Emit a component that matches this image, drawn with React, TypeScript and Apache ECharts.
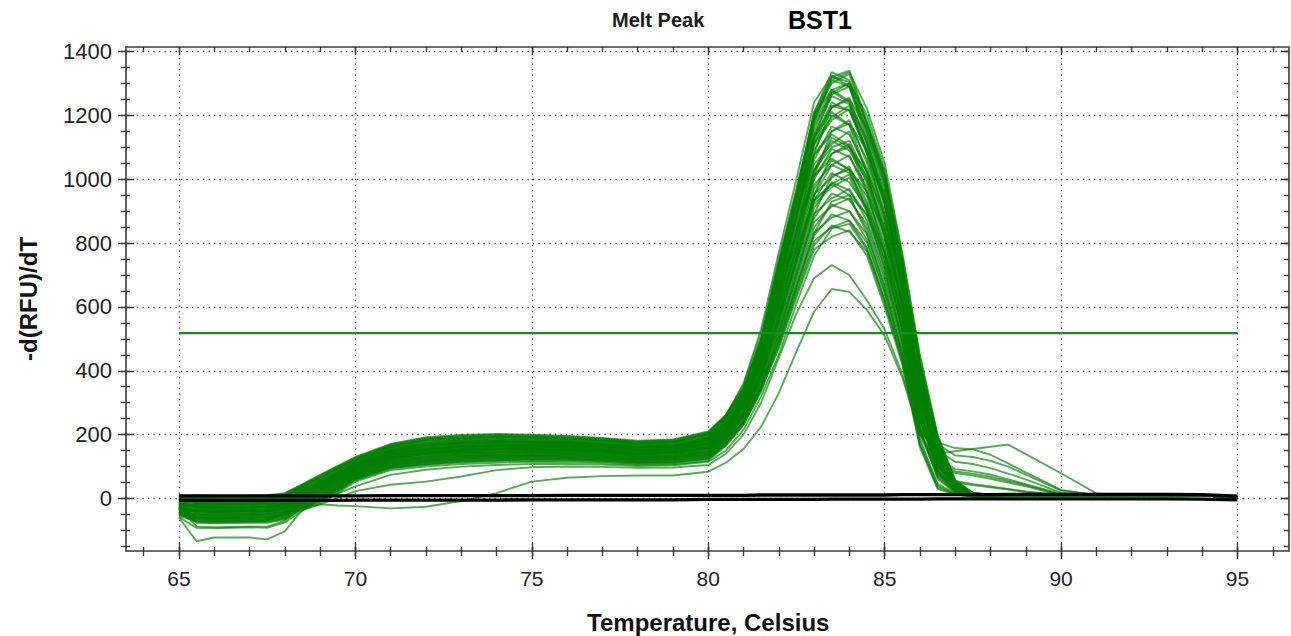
import React, { useEffect, useRef } from 'react';
import * as echarts from 'echarts';

// Temperature sampling (°C)
const temps = [65, 65.5, 66, 67, 67.5, 68, 68.5, 69, 69.5, 70, 71, 72, 73, 74, 75, 76, 77, 78, 79, 80, 80.5, 81, 81.5, 82, 82.5, 83, 83.5, 84, 84.5, 85, 85.5, 86, 86.5, 87, 87.5, 88, 88.5, 89, 90, 91, 92, 93, 94, 95];

// Positive wells: -d(RFU)/dT readings
const well01 = [0, 6, 4, 4, 6, 13, 41, 70, 98, 126, 167, 187, 194, 198, 196, 192, 186, 177, 181, 205, 260, 345, 500, 740, 960, 1210, 1320, 1340, 1180, 1020, 740, 420, 190, 50, 16, 12, 11, 11, 11, 11, 12, 12, 11, 5];
const well02 = [5, 10, 8, 8, 10, 17, 45, 74, 102, 130, 171, 192, 199, 202, 200, 196, 190, 181, 185, 210, 262, 344, 498, 737, 957, 1206, 1335, 1310, 1176, 1016, 737, 417, 188, 50, 16, 12, 11, 11, 11, 10, 11, 11, 10, 4];
const well03 = [-10, -4, -6, -5, -3, 4, 33, 61, 89, 118, 159, 178, 185, 189, 187, 184, 178, 170, 173, 196, 248, 343, 497, 735, 953, 1201, 1300, 1330, 1172, 1012, 734, 415, 187, 49, 16, 12, 11, 11, 11, 10, 10, 11, 10, 4];
const well04 = [3, 1, -1, -1, 1, 8, 37, 65, 94, 122, 163, 183, 190, 193, 192, 188, 182, 173, 177, 201, 252, 338, 490, 724, 940, 1184, 1310, 1290, 1155, 995, 721, 404, 180, 48, 15, 12, 11, 11, 11, 11, 10, 10, 9, 3];
const well05 = [-15, -12, -15, -14, -12, -5, 25, 52, 81, 111, 151, 169, 176, 180, 179, 176, 170, 162, 165, 187, 238, 334, 484, 713, 927, 1167, 1265, 1290, 1138, 978, 708, 394, 174, 46, 15, 11, 11, 11, 11, 10, 10, 11, 10, 5];
const well06 = [-4, -8, -10, -10, -8, 0, 29, 57, 85, 115, 155, 174, 181, 184, 183, 180, 174, 166, 169, 192, 243, 330, 479, 705, 917, 1154, 1275, 1240, 1125, 965, 698, 386, 169, 45, 15, 11, 10, 11, 11, 10, 11, 10, 10, 4];
const well07 = [-20, -17, -19, -18, -17, -9, 21, 48, 77, 107, 146, 164, 172, 175, 175, 171, 166, 158, 161, 182, 232, 325, 473, 694, 904, 1137, 1225, 1255, 1109, 949, 686, 376, 163, 44, 14, 11, 10, 10, 11, 10, 10, 10, 9, 4];
const well08 = [-6, -1, -3, -3, -1, 7, 35, 64, 92, 121, 161, 181, 188, 191, 190, 186, 181, 172, 176, 199, 250, 322, 468, 686, 894, 1124, 1240, 1215, 1096, 936, 676, 368, 158, 42, 14, 11, 10, 10, 11, 10, 11, 11, 10, 5];
const well09 = [-25, -21, -24, -23, -21, -13, 17, 44, 72, 103, 142, 160, 167, 171, 170, 167, 162, 154, 157, 178, 228, 317, 462, 675, 881, 1107, 1185, 1220, 1079, 919, 663, 358, 152, 41, 14, 11, 10, 10, 11, 10, 10, 10, 9, 4];
const well10 = [-12, -26, -28, -27, -26, -18, 13, 39, 68, 99, 138, 155, 163, 166, 166, 163, 158, 151, 153, 173, 222, 313, 455, 664, 868, 1090, 1200, 1170, 1062, 902, 650, 347, 145, 39, 13, 10, 10, 10, 10, 10, 10, 11, 10, 5];
const well11 = [-30, -15, -17, -17, -15, -7, 23, 50, 78, 108, 148, 166, 174, 177, 176, 173, 168, 160, 163, 184, 234, 309, 450, 656, 858, 1077, 1150, 1185, 1050, 890, 641, 339, 140, 38, 13, 10, 10, 10, 10, 10, 10, 10, 9, 4];
const well12 = [-18, -30, -32, -32, -30, -22, 9, 35, 64, 95, 134, 151, 158, 162, 162, 159, 154, 147, 149, 169, 217, 305, 444, 646, 845, 1060, 1165, 1140, 1033, 873, 628, 329, 134, 37, 13, 10, 10, 10, 10, 10, 9, 10, 10, 4];
const well13 = [-35, -24, -26, -25, -24, -16, 15, 41, 70, 101, 140, 157, 164, 168, 168, 165, 160, 152, 155, 175, 225, 301, 439, 637, 835, 1047, 1110, 1150, 1020, 860, 618, 321, 129, 36, 12, 10, 9, 10, 10, 10, 10, 10, 9, 3];
const well14 = [-28, -35, -37, -36, -35, -26, 5, 30, 60, 92, 130, 146, 154, 157, 158, 155, 151, 143, 146, 164, 212, 297, 433, 627, 821, 1029, 1130, 1100, 1004, 844, 606, 311, 123, 34, 12, 9, 9, 10, 10, 10, 10, 10, 9, 4];
const well15 = [-40, -40, -42, -40, -40, -31, 1, 26, 55, 88, 126, 141, 149, 153, 153, 151, 147, 139, 142, 159, 207, 292, 426, 616, 808, 1012, 1080, 1110, 987, 827, 593, 290, 175, 158, 154, 137, 110, 82, 27, 10, 10, 10, 9, 4];
const well16 = [-8, -28, -30, -29, -28, -20, 11, 37, 66, 98, 137, 153, 161, 164, 164, 162, 157, 149, 152, 171, 220, 289, 422, 608, 798, 999, 1095, 1070, 974, 814, 583, 293, 112, 31, 11, 9, 9, 10, 10, 10, 10, 10, 9, 4];
const well17 = [-22, -44, -46, -45, -44, -35, -3, 22, 51, 84, 122, 137, 144, 148, 149, 147, 143, 135, 138, 155, 203, 284, 415, 597, 785, 982, 1045, 1075, 957, 797, 570, 282, 105, 30, 11, 9, 9, 9, 10, 10, 10, 9, 9, 4];
const well18 = [-45, -37, -39, -38, -37, -28, 3, 29, 58, 90, 128, 144, 152, 155, 156, 153, 149, 141, 144, 162, 210, 281, 410, 589, 775, 969, 1060, 1030, 945, 785, 561, 274, 100, 29, 10, 9, 9, 9, 10, 10, 10, 10, 9, 4];
const well19 = [-30, -49, -51, -49, -49, -40, -7, 17, 47, 80, 118, 132, 140, 144, 145, 143, 139, 132, 134, 150, 198, 276, 404, 578, 762, 952, 1005, 1040, 928, 768, 548, 264, 110, 50, 42, 35, 28, 20, 10, 9, 10, 10, 9, 4];
const well20 = [-15, -42, -44, -43, -42, -33, -1, 24, 53, 85, 123, 139, 146, 150, 151, 148, 144, 137, 139, 157, 205, 271, 398, 567, 749, 935, 1020, 990, 911, 751, 535, 254, 88, 26, 10, 8, 8, 9, 10, 10, 10, 10, 9, 4];
const well21 = [-38, -53, -55, -54, -53, -44, -11, 13, 43, 76, 114, 128, 135, 139, 141, 139, 135, 128, 130, 146, 193, 268, 393, 559, 739, 922, 975, 1005, 899, 739, 526, 246, 100, 55, 45, 38, 30, 22, 10, 9, 10, 10, 9, 4];
const well22 = [-48, -57, -60, -58, -58, -48, -15, 9, 38, 72, 110, 123, 131, 135, 136, 135, 131, 124, 126, 141, 188, 265, 388, 551, 729, 909, 990, 965, 886, 726, 516, 238, 120, 85, 78, 68, 55, 42, 12, 9, 10, 10, 9, 4];
const well23 = [-25, -46, -48, -47, -46, -37, -5, 20, 49, 82, 120, 135, 143, 146, 147, 145, 141, 134, 136, 153, 200, 260, 382, 540, 716, 892, 940, 970, 869, 709, 503, 228, 125, 92, 85, 75, 60, 45, 14, 9, 10, 10, 9, 4];
const well24 = [-52, -62, -64, -62, -62, -53, -19, 4, 34, 68, 105, 118, 126, 130, 132, 130, 127, 120, 122, 136, 182, 256, 377, 532, 706, 879, 955, 935, 857, 697, 494, 220, 67, 21, 8, 7, 8, 9, 9, 10, 10, 10, 9, 4];
const well25 = [-42, -55, -57, -55, -55, -46, -13, 11, 41, 75, 112, 126, 133, 137, 139, 137, 133, 126, 128, 144, 190, 253, 372, 524, 696, 866, 915, 940, 844, 684, 484, 212, 150, 115, 108, 95, 78, 60, 18, 9, 10, 10, 9, 4];
const well26 = [-35, -66, -68, -67, -67, -57, -23, 0, 30, 65, 101, 114, 122, 126, 128, 126, 123, 116, 118, 132, 178, 248, 366, 513, 683, 849, 920, 900, 827, 667, 471, 202, 110, 80, 72, 62, 50, 38, 11, 9, 9, 10, 9, 4];
const well27 = [-55, -71, -73, -71, -71, -61, -27, -4, 26, 61, 97, 109, 117, 121, 124, 122, 119, 113, 114, 127, 172, 244, 359, 502, 670, 832, 880, 900, 810, 650, 458, 220, 140, 148, 155, 162, 169, 139, 79, 16, 10, 10, 9, 4];
const well28 = [-20, -60, -62, -61, -60, -51, -17, 6, 36, 70, 107, 120, 128, 132, 134, 132, 128, 122, 123, 138, 184, 242, 356, 497, 663, 823, 890, 870, 802, 642, 452, 186, 46, 16, 7, 7, 7, 8, 9, 9, 10, 10, 9, 4];
const well29 = [-47, -76, -78, -76, -76, -66, -31, -9, 21, 57, 93, 105, 113, 117, 119, 118, 115, 109, 110, 123, 168, 237, 350, 486, 650, 806, 850, 870, 785, 625, 439, 200, 170, 135, 130, 118, 100, 75, 25, 10, 10, 10, 9, 4];
const well30 = [-30, -88, -90, -88, -88, -70, -28, -3, 27, 62, 99, 111, 119, 123, 125, 124, 120, 114, 115, 129, 175, 233, 345, 478, 640, 793, 855, 835, 773, 613, 430, 168, 35, 13, 6, 6, 7, 8, 9, 9, 10, 10, 9, 4];
const well31 = [-58, -92, -93, -90, -92, -75, -38, -13, 17, 53, 89, 100, 108, 112, 115, 114, 111, 105, 106, 118, 165, 230, 340, 470, 630, 780, 820, 840, 760, 600, 420, 160, 30, 12, 6, 6, 7, 8, 9, 9, 10, 10, 9, 4];
const well32 = [-10, -10, -12, -12, -10, -2, 27, 55, 83, 113, 153, 172, 179, 182, 181, 178, 172, 164, 167, 190, 242, 341, 494, 729, 947, 1193, 1320, 1305, 1164, 1003, 727, 410, 184, 48, 16, 12, 11, 11, 11, 11, 10, 11, 10, 4];
const well33 = [-18, -19, -21, -20, -19, -11, 19, 46, 75, 105, 145, 163, 170, 173, 173, 170, 164, 156, 159, 181, 230, 336, 487, 718, 934, 1176, 1280, 1300, 1146, 986, 714, 399, 177, 47, 15, 12, 11, 11, 11, 10, 10, 10, 10, 4];
const well34 = [-33, -33, -35, -34, -33, -25, 7, 32, 61, 93, 132, 148, 155, 159, 159, 157, 152, 145, 147, 166, 215, 327, 474, 697, 907, 1141, 1260, 1235, 1113, 953, 689, 378, 164, 44, 14, 11, 10, 10, 11, 10, 10, 10, 9, 4];
const well35 = [2, 3, 1, 1, 3, 10, 39, 67, 95, 124, 164, 185, 192, 195, 193, 189, 183, 175, 178, 203, 255, 320, 465, 681, 887, 1115, 1195, 1230, 1088, 928, 670, 363, 155, 42, 14, 11, 10, 10, 11, 10, 10, 11, 10, 5];
const well36 = [-44, -51, -53, -52, -51, -42, -9, 15, 44, 78, 115, 129, 137, 141, 142, 140, 136, 129, 131, 147, 196, 294, 430, 621, 815, 1021, 1120, 1090, 995, 835, 599, 306, 120, 33, 12, 9, 9, 10, 10, 10, 10, 10, 9, 4];
const well37 = [-5, -24, -26, -25, -24, -16, 15, 41, 70, 101, 140, 157, 164, 168, 168, 165, 160, 152, 155, 175, 222, 270, 396, 565, 746, 931, 985, 1015, 907, 747, 532, 252, 86, 25, 10, 8, 8, 9, 10, 10, 10, 10, 9, 4];
const well38 = [-8, -6, -8, -8, -6, 2, 31, 58, 87, 116, 157, 175, 183, 186, 185, 181, 176, 168, 171, 193, 258, 360, 530, 770, 1000, 1240, 1325, 1290, 1120, 930, 650, 350, 120, 35, 13, 11, 11, 11, 11, 10, 11, 11, 10, 5];
const well39 = [-20, -26, -28, -27, -26, -18, 13, 39, 68, 99, 138, 155, 163, 166, 166, 163, 158, 151, 153, 173, 220, 300, 440, 650, 880, 1130, 1270, 1300, 1200, 1030, 760, 440, 195, 55, 18, 12, 11, 11, 11, 11, 11, 11, 10, 4];
const well40 = [4, 1, -1, -1, 1, 8, 37, 65, 94, 122, 163, 183, 190, 193, 192, 188, 182, 173, 177, 201, 262, 355, 515, 750, 970, 1200, 1280, 1245, 1080, 880, 610, 320, 105, 30, 12, 11, 10, 11, 11, 10, 10, 11, 10, 4];
const well41 = [-12, -40, -42, -40, -40, -31, 1, 26, 55, 88, 126, 141, 149, 153, 153, 151, 147, 139, 142, 159, 205, 285, 415, 615, 835, 1080, 1225, 1250, 1160, 1000, 740, 430, 185, 52, 17, 12, 11, 11, 10, 10, 10, 10, 9, 4];
const well42 = [-3, -12, -15, -14, -12, -5, 25, 52, 81, 111, 151, 169, 176, 180, 179, 176, 170, 162, 165, 187, 245, 340, 495, 715, 925, 1130, 1210, 1170, 1020, 820, 560, 290, 90, 25, 11, 10, 10, 10, 10, 10, 10, 10, 9, 4];
const well43 = [-42, -49, -51, -49, -49, -40, -7, 17, 47, 80, 118, 132, 140, 144, 145, 143, 139, 132, 134, 150, 195, 270, 395, 585, 790, 1010, 1150, 1175, 1090, 940, 700, 410, 175, 48, 16, 11, 10, 10, 10, 10, 10, 10, 9, 4];
const well44 = [-28, -19, -21, -20, -19, -11, 19, 46, 75, 105, 145, 163, 170, 173, 173, 170, 164, 156, 159, 181, 238, 330, 478, 690, 890, 1075, 1140, 1105, 960, 770, 525, 265, 80, 22, 10, 9, 10, 10, 10, 10, 10, 10, 9, 4];
const well45 = [-40, -57, -60, -58, -58, -48, -15, 9, 38, 72, 110, 123, 131, 135, 136, 135, 131, 124, 126, 141, 185, 255, 375, 550, 745, 950, 1080, 1100, 1025, 885, 660, 390, 165, 45, 15, 10, 10, 10, 10, 10, 10, 10, 9, 4];
const well46 = [-10, -30, -32, -32, -30, -22, 9, 35, 64, 95, 134, 151, 158, 162, 162, 159, 154, 147, 149, 169, 222, 312, 452, 650, 840, 1010, 1065, 1030, 900, 720, 490, 245, 72, 20, 9, 9, 9, 10, 10, 10, 10, 10, 9, 4];
const well47 = [-50, -66, -68, -67, -67, -57, -23, 0, 30, 65, 101, 114, 122, 126, 128, 126, 123, 116, 118, 132, 175, 240, 350, 515, 700, 890, 1010, 1030, 960, 830, 620, 365, 150, 40, 14, 10, 10, 10, 10, 10, 10, 10, 9, 4];
const well48 = [-33, -40, -42, -40, -40, -31, 1, 26, 55, 88, 126, 141, 149, 153, 153, 151, 147, 139, 142, 159, 210, 295, 425, 605, 780, 935, 985, 950, 830, 660, 450, 220, 62, 18, 8, 8, 9, 9, 10, 10, 10, 10, 9, 4];
const well49 = [-44, -73, -75, -73, -73, -63, -29, -6, 24, 59, 96, 107, 115, 119, 122, 121, 117, 111, 112, 125, 168, 232, 335, 490, 660, 830, 930, 950, 890, 770, 575, 340, 140, 38, 13, 9, 9, 9, 10, 10, 10, 10, 9, 4];
const well50 = [6, 8, 6, 6, 8, 15, 43, 72, 100, 128, 169, 190, 197, 200, 198, 194, 188, 179, 183, 208, 258, 335, 480, 710, 935, 1180, 1310, 1335, 1220, 1050, 770, 450, 200, 58, 18, 12, 12, 11, 11, 11, 12, 12, 11, 5];
const well51 = [-38, -35, -37, -36, -35, -26, 5, 30, 60, 92, 130, 146, 154, 157, 158, 155, 151, 143, 146, 164, 214, 315, 462, 675, 885, 1110, 1230, 1215, 1085, 925, 670, 365, 150, 40, 14, 11, 10, 10, 11, 10, 10, 10, 9, 4];
const well52 = [-2, -15, -17, -17, -15, -7, 23, 50, 78, 108, 148, 166, 174, 177, 176, 173, 168, 160, 163, 184, 236, 305, 440, 640, 830, 1030, 1100, 1120, 1005, 845, 605, 315, 125, 34, 12, 10, 10, 10, 10, 10, 10, 10, 9, 4];
const well53 = [-25, -62, -64, -62, -62, -53, -19, 4, 34, 68, 105, 118, 126, 130, 132, 130, 127, 120, 122, 136, 184, 262, 390, 575, 760, 950, 1045, 1020, 920, 770, 550, 280, 95, 27, 10, 9, 9, 10, 10, 10, 10, 10, 9, 4];
// Atypical wells
const wellLowPeakA = [-45, -70, -72, -70, -68, -45, -30, -18, -22, -24, -31, -26, -8, 17, 53, 65, 70, 72, 72, 84, 112, 155, 225, 330, 460, 585, 656, 647, 590, 510, 380, 200, 75, 30, 15, 10, 9, 9, 9, 9, 10, 10, 9, 4];
const wellLowPeakB = [-30, -60, -62, -62, -60, -50, -35, -18, 2, 23, 43, 53, 69, 89, 98, 100, 99, 96, 97, 105, 140, 200, 300, 440, 580, 690, 731, 700, 620, 530, 390, 210, 80, 30, 15, 10, 9, 9, 9, 9, 10, 10, 9, 4];
const wellDeepStart = [-60, -134, -122, -122, -128, -103, -35, -5, 15, 38, 74, 90, 100, 105, 108, 108, 106, 102, 104, 115, 150, 215, 320, 450, 610, 760, 845, 860, 780, 620, 430, 175, 40, 14, 7, 7, 8, 8, 9, 9, 10, 10, 9, 4];
// Negative controls (black traces)
const negativeA = [8, 8, 8, 8, 8, 8, 8, 8, 8, 8, 9, 9, 9, 9, 9, 10, 10, 10, 10, 10, 10, 10, 11, 11, 11, 11, 11, 11, 11, 11, 12, 12, 12, 12, 12, 12, 13, 13, 13, 13, 13, 13, 12, 7];
const negativeB = [-6, -6, -6, -6, -6, -6, -6, -6, -6, -5, -5, -5, -5, -5, -4, -4, -4, -4, -4, -3, -3, -3, -3, -3, -3, -3, -2, -2, -2, -2, -2, -2, -1, -1, -1, -1, -1, -1, -1, -1, -1, -1, -2, -4];
// Threshold
const thresholdTemps = [65, 95];
const thresholdValue = 518;

// Axis ticks
const xMajorTicks = [65, 70, 75, 80, 85, 90, 95];
const yMajorTicks = [0, 200, 400, 600, 800, 1000, 1200, 1400];

const greenWells = [well01, well02, well03, well04, well05, well06, well07, well08, well09, well10, well11, well12, well13, well14, well15, well16, well17, well18, well19, well20, well21, well22, well23, well24, well25, well26, well27, well28, well29, well30, well31, well32, well33, well34, well35, well36, well37, well38, well39, well40, well41, well42, well43, well44, well45, well46, well47, well48, well49, well50, well51, well52, well53, wellLowPeakA, wellLowPeakB, wellDeepStart];
const blackWells = [negativeA, negativeB];

const FONT = "'Liberation Sans', Arial, Helvetica, sans-serif";
const FRAME = '#3a3a3a';
const GREEN = 'rgba(0,128,0,0.66)';
const GRID_DOT = { color: '#4a4a4a', width: 1.3, type: [1.3, 4.2] as number[] };

function tickAxis(gridIndex: number, min: number, max: number, interval: number, position: string, inside: boolean, length: number) {
  return {
    type: 'value', gridIndex, min, max, interval, position,
    axisLine: { show: false, onZero: false },
    axisTick: { show: true, inside, length, lineStyle: { color: FRAME, width: 1.4 } },
    axisLabel: { show: false },
    splitLine: { show: false },
  } as any;
}
function hiddenAxis(gridIndex: number) {
  return { type: 'value', gridIndex, min: 0, max: 1, show: false, axisLine: { onZero: false } } as any;
}

function buildOption() {
  const series: any[] = [];
  greenWells.forEach((w, i) => {
    series.push({
      type: 'line', name: 'well' + (i + 1), xAxisIndex: 0, yAxisIndex: 0,
      data: temps.map((t, j) => [t, w[j]]),
      symbol: 'none', silent: true, z: 2,
      lineStyle: { color: GREEN, width: 1.9 },
    });
  });
  series.push({
    type: 'line', name: 'threshold', xAxisIndex: 0, yAxisIndex: 0,
    data: thresholdTemps.map((t) => [t, thresholdValue]),
    symbol: 'none', silent: true, z: 3,
    lineStyle: { color: '#1a8a1a', width: 2.2 },
  });
  blackWells.forEach((w, i) => {
    series.push({
      type: 'line', name: 'ntc' + (i + 1), xAxisIndex: 0, yAxisIndex: 0,
      data: temps.map((t, j) => [t, w[j]]),
      symbol: 'none', silent: true, z: 4,
      lineStyle: { color: '#000', width: 3.3 },
    });
  });

  const xMin = xMajorTicks[0], xMax = xMajorTicks[xMajorTicks.length - 1];
  const yMax = yMajorTicks[yMajorTicks.length - 1];

  return {
    animation: false,
    backgroundColor: '#fff',
    textStyle: { fontFamily: FONT },
    title: [
      { text: 'Melt Peak', left: 612, top: 10, padding: 0, textStyle: { fontSize: 20, fontWeight: 'bold', color: '#1c1c1c', fontFamily: FONT } },
      { text: 'BST1', left: 788, top: 7, padding: 0, textStyle: { fontSize: 25, fontWeight: 'bold', color: '#000', fontFamily: FONT } },
    ],
    grid: [
      { left: 126, top: 47, width: 1163, height: 504, show: true, borderColor: FRAME, borderWidth: 1.6, backgroundColor: 'transparent', containLabel: false, outerBoundsMode: 'none' },
      { left: 126, top: 51.48, width: 1163, height: 494.9, containLabel: false, outerBoundsMode: 'none' },
      { left: 126, top: 51.48, width: 1163, height: 447.0, containLabel: false, outerBoundsMode: 'none' },
      { left: 143.72, top: 47, width: 1129.05, height: 504, containLabel: false, outerBoundsMode: 'none' },
      { left: 179, top: 47, width: 1058.5, height: 504, containLabel: false, outerBoundsMode: 'none' },
    ],
    xAxis: [
      { type: 'value', gridIndex: 0, min: 63.5, max: 96.46, show: false, axisLine: { onZero: false } },
      hiddenAxis(1),
      hiddenAxis(2),
      tickAxis(3, 64, 96, 1, 'bottom', false, 5),
      tickAxis(3, 64, 96, 1, 'bottom', true, 4),
      tickAxis(3, 64, 96, 1, 'top', true, 5),
      {
        ...tickAxis(4, xMin, xMax, 5, 'bottom', false, 8),
        axisLabel: { show: true, fontSize: 21, color: '#222', margin: 17, fontFamily: FONT, formatter: (v: number) => String(v) },
        splitLine: { show: true, lineStyle: GRID_DOT },
        name: 'Temperature, Celsius', nameLocation: 'middle', nameGap: 59,
        nameTextStyle: { fontSize: 24, fontWeight: 'bold', color: '#111', fontFamily: FONT },
      },
      tickAxis(4, xMin, xMax, 5, 'bottom', true, 8),
      tickAxis(4, xMin, xMax, 5, 'top', true, 8),
    ],
    yAxis: [
      { type: 'value', gridIndex: 0, min: -164.4, max: 1414, show: false, axisLine: { onZero: false } },
      {
        ...tickAxis(1, -150, 1400, 50, 'left', false, 5),
        name: '-d(RFU)/dT', nameLocation: 'middle', nameGap: 86, nameRotate: 90,
        nameTextStyle: { fontSize: 24, fontWeight: 'bold', color: '#111', fontFamily: FONT },
      },
      tickAxis(1, -150, 1400, 50, 'left', true, 4),
      tickAxis(1, -150, 1400, 50, 'right', true, 5),
      {
        ...tickAxis(2, 0, yMax, 200, 'left', false, 8),
        axisLabel: { show: true, fontSize: 22, color: '#222', margin: 14, fontFamily: FONT, formatter: (v: number) => String(v) },
        splitLine: { show: true, lineStyle: GRID_DOT },
      },
      tickAxis(2, 0, yMax, 200, 'left', true, 8),
      tickAxis(2, 0, yMax, 200, 'right', true, 8),
      hiddenAxis(3),
      hiddenAxis(4),
    ],
    series,
  };
}

export default function App() {
  const ref = useRef<HTMLDivElement>(null);
  useEffect(() => {
    if (!ref.current) return;
    const chart = echarts.init(ref.current, null, { renderer: 'svg' });
    chart.setOption(buildOption() as any);
    return () => chart.dispose();
  }, []);
  return (
    <div
      ref={ref}
      style={{ position: 'fixed', left: 0, top: 0, width: 1291, height: 636, background: '#fff' }}
    />
  );
}
